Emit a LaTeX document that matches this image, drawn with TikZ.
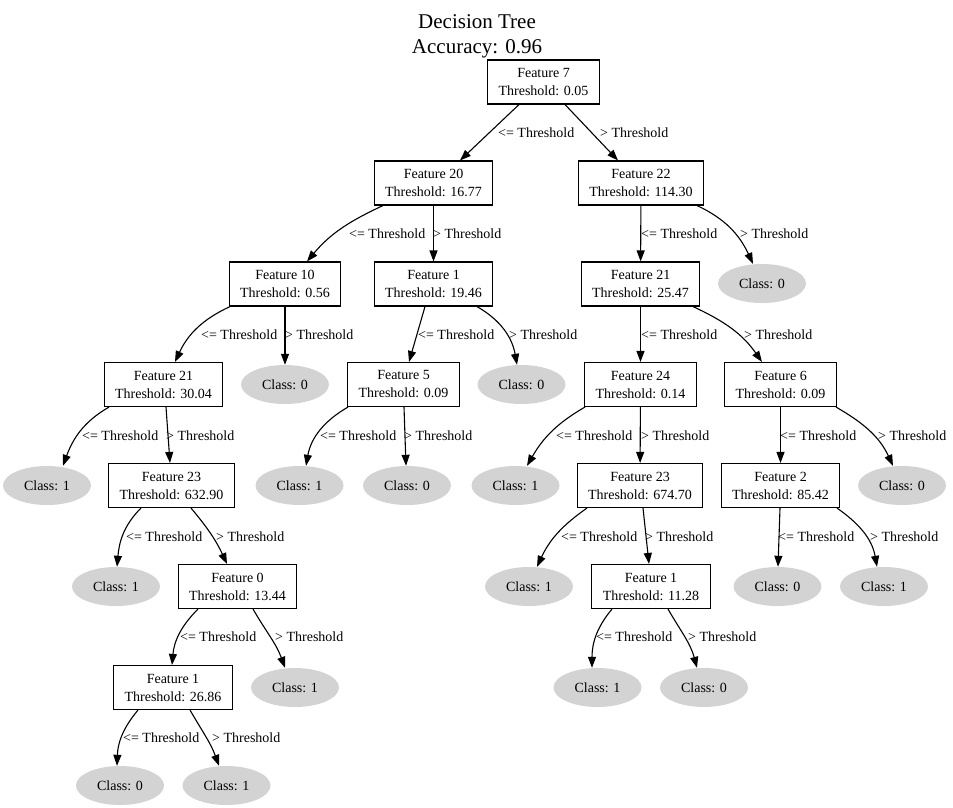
\documentclass[tikz,border=0pt]{standalone}
\usepackage{fontspec}
\setmainfont{Liberation Serif}
\usetikzlibrary{arrows.meta,shapes.geometric}
\definecolor{clsgray}{RGB}{211,211,211}
\begin{document}
\begin{tikzpicture}[x=1pt,y=1pt,
  every node/.style={font=\fontsize{14pt}{18pt}\selectfont},
  feat/.style={draw, line width=1.1pt, rectangle, align=center, minimum height=44pt, inner xsep=11pt, inner ysep=0pt},
  cls/.style={ellipse, fill=clsgray, minimum width=88pt, minimum height=39pt, inner sep=0pt},
  lab/.style={anchor=west, inner sep=0pt},
  conn/.style={-{Triangle[length=11pt,width=8pt]}, line width=1.1pt}
]
\useasboundingbox (0,0) rectangle (953,-807);
\node[align=center, font=\fontsize{21pt}{25pt}\selectfont] (title) at (477,-36.5) {Decision Tree\\Accuracy: 0.96};
% rank 1
\node[feat] (n7) at (543.5,-82) {Feature 7\\Threshold: 0.05};
% rank 2
\node[feat] (n20) at (433.5,-183) {Feature 20\\Threshold: 16.77};
\node[feat] (n22) at (641,-183) {Feature 22\\Threshold: 114.30};
% rank 3
\node[feat] (n10) at (285,-284) {Feature 10\\Threshold: 0.56};
\node[feat] (n1a) at (433.5,-284) {Feature 1\\Threshold: 19.46};
\node[feat] (n21b) at (640.5,-284) {Feature 21\\Threshold: 25.47};
\node[cls] (c0a) at (762,-283.5) {Class: 0};
% rank 4
\node[feat] (n21a) at (163.5,-384.5) {Feature 21\\Threshold: 30.04};
\node[cls] (c0b) at (285,-384.5) {Class: 0};
\node[feat] (n5) at (403.5,-384.5) {Feature 5\\Threshold: 0.09};
\node[cls] (c0c) at (521.5,-384.5) {Class: 0};
\node[feat] (n24) at (640.5,-384.5) {Feature 24\\Threshold: 0.14};
\node[feat] (n6) at (780.5,-384.5) {Feature 6\\Threshold: 0.09};
% rank 5
\node[cls] (c1a) at (47,-485.5) {Class: 1};
\node[feat] (n23a) at (171.5,-485.5) {Feature 23\\Threshold: 632.90};
\node[cls] (c1b) at (299.5,-485.5) {Class: 1};
\node[cls] (c0d) at (407,-485.5) {Class: 0};
\node[cls] (c1c) at (515.5,-485.5) {Class: 1};
\node[feat] (n23b) at (640,-485.5) {Feature 23\\Threshold: 674.70};
\node[feat] (n2) at (780.5,-485.5) {Feature 2\\Threshold: 85.42};
\node[cls] (c0e) at (902,-485.5) {Class: 0};
% rank 6
\node[cls] (c1d) at (116,-586.5) {Class: 1};
\node[feat] (n0) at (237.5,-586.5) {Feature 0\\Threshold: 13.44};
\node[cls] (c1e) at (529,-586.5) {Class: 1};
\node[feat] (n1c) at (651,-586.5) {Feature 1\\Threshold: 11.28};
\node[cls] (c0f) at (777.5,-586.5) {Class: 0};
\node[cls] (c1f) at (884,-586.5) {Class: 1};
% rank 7
\node[feat] (n1b) at (173,-687.5) {Feature 1\\Threshold: 26.86};
\node[cls] (c1g) at (295,-687.5) {Class: 1};
\node[cls] (c1h) at (597.5,-687.5) {Class: 1};
\node[cls] (c0g) at (704,-687.5) {Class: 0};
% rank 8
\node[cls] (c0h) at (120,-785.5) {Class: 0};
\node[cls] (c1i) at (226.5,-785.5) {Class: 1};

% edges
\draw[conn] ([xshift=-24.5pt]n7.south) -- ([xshift=26.5pt]n20.north);
\draw[conn] ([xshift=21.5pt]n7.south) -- ([xshift=-23pt]n22.north);
\draw[conn] ([xshift=-50.5pt]n20.south) to[out=-155,in=50] ([xshift=22pt]n10.north);
\draw[conn] (n20) -- (n1a);
\draw[conn] (n22) -- (n21b);
\draw[conn] ([xshift=56pt]n22.south) to[out=-25,in=115] ([xshift=-9pt]c0a.north);
\draw[conn] ([xshift=-55pt]n10.south) to[out=-155,in=65] ([xshift=11.5pt]n21a.north);
\draw[conn] (n10) -- (c0b);
\draw[conn] ([xshift=-8.5pt]n1a.south) -- ([xshift=5.5pt]n5.north);
\draw[conn] ([xshift=43.5pt]n1a.south) to[out=-30,in=100] ([xshift=-4.5pt]c0c.north);
\draw[conn] (n21b) -- (n24);
\draw[conn] ([xshift=52.5pt]n21b.south) to[out=-25,in=125] ([xshift=-18.5pt]n6.north);
\draw[conn] ([xshift=-54.5pt]n21a.south) to[out=-150,in=70] ([xshift=16pt]c1a.north);
\draw[conn] ([xshift=2.5pt]n21a.south) -- ([xshift=-1.5pt]n23a.north);
\draw[conn] ([xshift=-55.5pt]n5.south) to[out=-150,in=80] ([xshift=6.5pt]c1b.north);
\draw[conn] ([xshift=0.5pt]n5.south) -- ([xshift=-1pt]c0d.north);
\draw[conn] ([xshift=-55.5pt]n24.south) to[out=-150,in=60] ([xshift=11.5pt]c1c.north);
\draw[conn] (n24) -- (n23b);
\draw[conn] (n6) -- (n2);
\draw[conn] ([xshift=55.5pt]n6.south) to[out=-30,in=115] ([xshift=-9pt]c0e.north);
\draw[conn] ([xshift=-30.5pt]n23a.south) to[out=-135,in=85] ([xshift=1pt]c1d.north);
\draw[conn] ([xshift=19.5pt]n23a.south) to[out=-50,in=115] ([xshift=-10.5pt]n0.north);
\draw[conn] ([xshift=-53pt]n23b.south) to[out=-145,in=65] ([xshift=8pt]c1e.north);
\draw[conn] ([xshift=3pt]n23b.south) -- ([xshift=-2pt]n1c.north);
\draw[conn] ([xshift=-0.5pt]n2.south) -- ([xshift=0.5pt]c0f.north);
\draw[conn] ([xshift=56.5pt]n2.south) to[out=-35,in=100] ([xshift=-7pt]c1f.north);
\draw[conn] ([xshift=-39.5pt]n0.south) to[out=-135,in=85] ([xshift=-1pt]n1b.north);
\draw[conn] ([xshift=15.5pt]n0.south) to[out=-60,in=110] ([xshift=-10pt]c1g.north);
\draw[conn] ([xshift=-39pt]n1c.south) to[out=-130,in=90] ([xshift=-5.5pt]c1h.north);
\draw[conn] ([xshift=17pt]n1c.south) to[out=-60,in=105] ([xshift=-7pt]c0g.north);
\draw[conn] ([xshift=-35pt]n1b.south) to[out=-130,in=88] ([xshift=-3pt]c0h.north);
\draw[conn] ([xshift=17pt]n1b.south) to[out=-60,in=110] ([xshift=-7.5pt]c1i.north);

% labels
\node[lab] (l7a) at (498,-133) {<= Threshold};
\node[lab] (l7b) at (600,-133) {> Threshold};
\node[lab] (l20a) at (349,-234) {<= Threshold};
\node[lab] (l20b) at (433,-234) {> Threshold};
\node[lab] (l22a) at (641,-234) {<= Threshold};
\node[lab] (l22b) at (740,-234) {> Threshold};
\node[lab] (l10a) at (201,-335) {<= Threshold};
\node[lab] (l10b) at (285,-335) {> Threshold};
\node[lab] (l1aa) at (418,-335) {<= Threshold};
\node[lab] (l1ab) at (509,-335) {> Threshold};
\node[lab] (l21ba) at (641,-335) {<= Threshold};
\node[lab] (l21bb) at (744,-335) {> Threshold};
\node[lab] (l21aa) at (82,-436) {<= Threshold};
\node[lab] (l21ab) at (166,-436) {> Threshold};
\node[lab] (l5a) at (320,-436) {<= Threshold};
\node[lab] (l5b) at (404,-436) {> Threshold};
\node[lab] (l24a) at (556,-436) {<= Threshold};
\node[lab] (l24b) at (641,-436) {> Threshold};
\node[lab] (l6a) at (780,-436) {<= Threshold};
\node[lab] (l6b) at (878,-436) {> Threshold};
\node[lab] (l23aa) at (126,-537) {<= Threshold};
\node[lab] (l23ab) at (216,-537) {> Threshold};
\node[lab] (l23ba) at (561,-537) {<= Threshold};
\node[lab] (l23bb) at (645,-537) {> Threshold};
\node[lab] (l2a) at (778,-537) {<= Threshold};
\node[lab] (l2b) at (870,-537) {> Threshold};
\node[lab] (l0a) at (180,-637) {<= Threshold};
\node[lab] (l0b) at (275,-637) {> Threshold};
\node[lab] (l1ca) at (596,-637) {<= Threshold};
\node[lab] (l1cb) at (688,-637) {> Threshold};
\node[lab] (l1ba) at (123,-738) {<= Threshold};
\node[lab] (l1bb) at (212,-738) {> Threshold};
\end{tikzpicture}
\end{document}
